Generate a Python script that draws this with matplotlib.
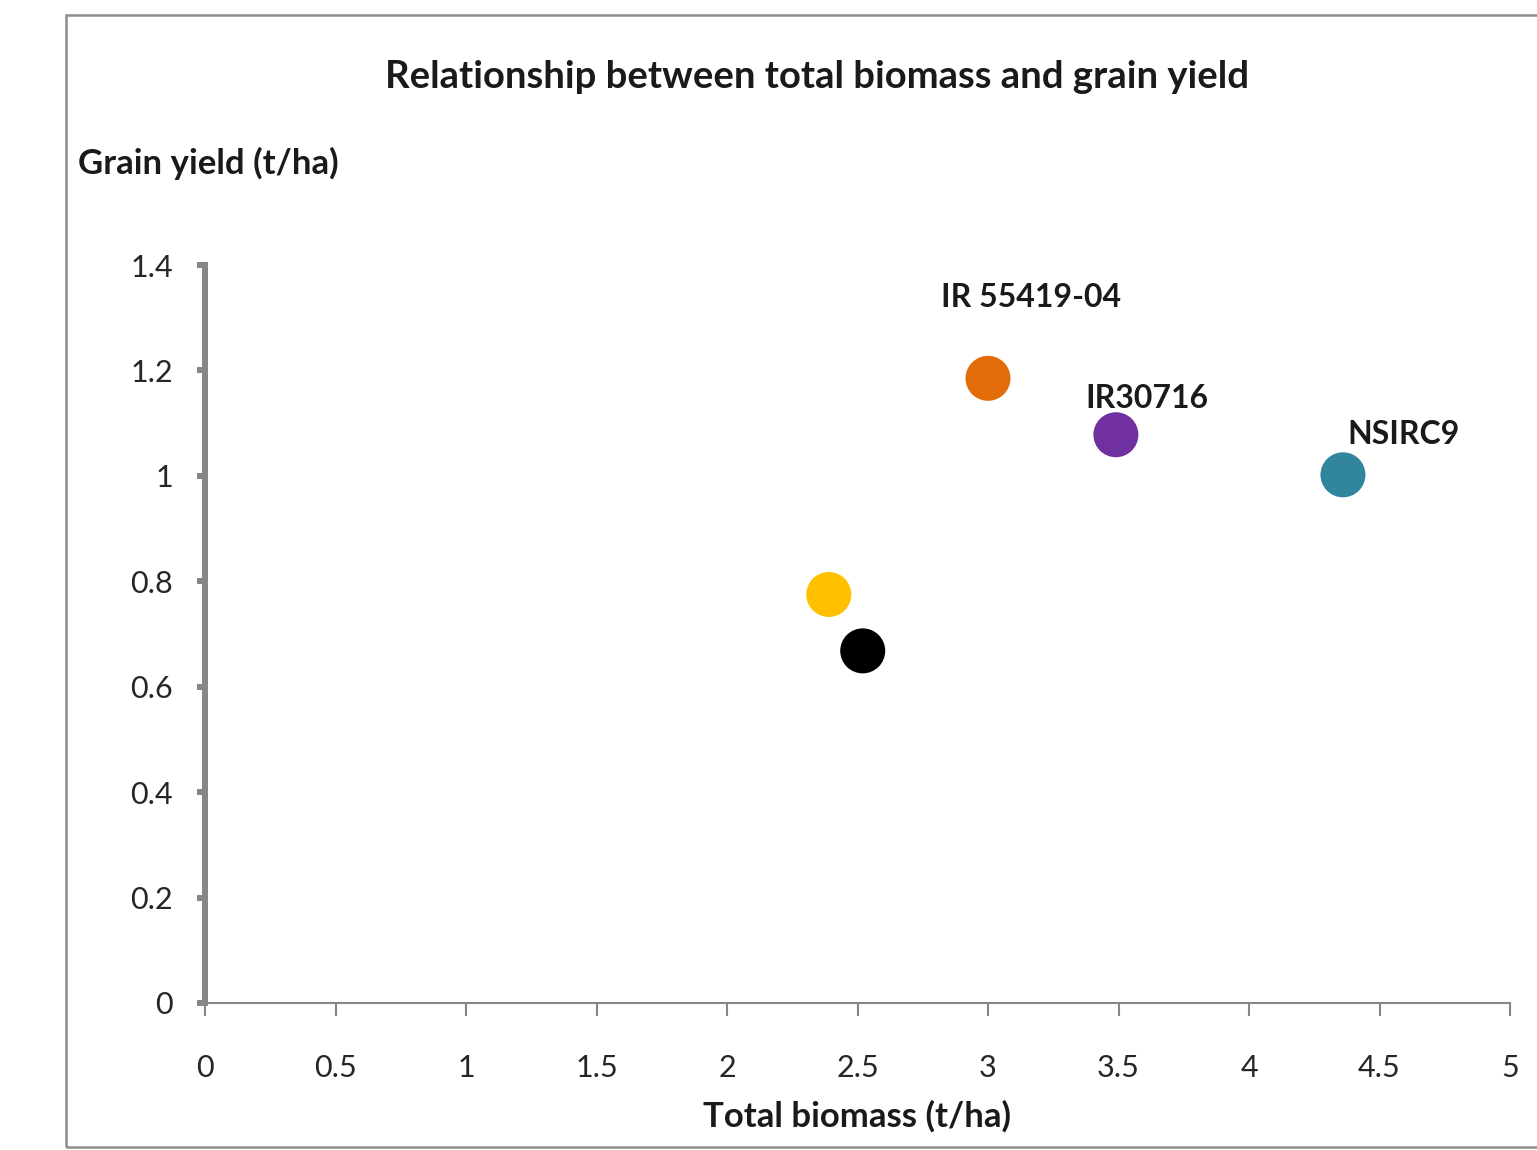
import matplotlib
matplotlib.use("Agg")
import matplotlib.pyplot as plt
from matplotlib.patches import Rectangle

plt.rcParams['font.family'] = ['Lato', 'DejaVu Sans']

# Varieties: total biomass (t/ha) vs grain yield (t/ha)
varieties = ["", "", "IR 55419-04", "IR30716", "NSIRC9"]
biomass = [2.39, 2.52, 3.0, 3.49, 4.36]
grain_yield = [0.775, 0.668, 1.185, 1.078, 1.002]
colors = ["#FFC000", "#000000", "#E36C0A", "#7030A0", "#31859C"]
# label offsets (points) relative to each marker
label_dx = [0, 0, -34, -22, 3]
label_dy = [0, 0, 58, 26, 29]

x_ticks = [0, 0.5, 1, 1.5, 2, 2.5, 3, 3.5, 4, 4.5, 5]
x_tick_labels = ["0", "0.5", "1", "1.5", "2", "2.5", "3", "3.5", "4", "4.5", "5"]
y_ticks = [0, 0.2, 0.4, 0.6, 0.8, 1.0, 1.2, 1.4]
y_tick_labels = ["0", "0.2", "0.4", "0.6", "0.8", "1", "1.2", "1.4"]

W, H = 1537, 1150
fig = plt.figure(figsize=(W / 100, H / 100), dpi=100)
fig.patch.set_facecolor("white")

# outer chart frame
fig.patches.append(Rectangle((66 / W, 1 - 1147 / H), 1.0, (1147 - 15) / H,
                             transform=fig.transFigure, fill=False,
                             edgecolor="#8c8c8c", linewidth=1.8))

ax = fig.add_axes([205 / W, 1 - 1003 / H, (1510 - 205) / W, (1003 - 265) / H])
ax.set_xlim(0, 5)
ax.set_ylim(0, 1.4)

ax.scatter(biomass, grain_yield, s=1050, c=colors, edgecolors="none", zorder=3,
           clip_on=False)

for name, x, y, dx, dy in zip(varieties, biomass, grain_yield, label_dx, label_dy):
    if name:
        ax.annotate(name, (x, y), xytext=(dx, dy), textcoords="offset points",
                    ha="left", va="center", fontsize=23, fontweight="bold",
                    color="#1a1a1a")

for side in ("top", "right"):
    ax.spines[side].set_visible(False)
ax.spines["left"].set_color("#868686")
ax.spines["left"].set_linewidth(4.3)
ax.spines["bottom"].set_color("#868686")
ax.spines["bottom"].set_linewidth(1.5)

ax.set_xticks(x_ticks)
ax.set_xticklabels(x_tick_labels)
ax.set_yticks(y_ticks)
ax.set_yticklabels(y_tick_labels)
ax.tick_params(axis="x", direction="out", length=9, width=1.5, color="#868686",
               labelsize=22, pad=28, labelcolor="#262626")
ax.tick_params(axis="y", direction="out", length=6, width=4.3, color="#868686",
               labelsize=22, pad=17, labelcolor="#262626")

ax.set_xlabel("Total biomass (t/ha)", fontsize=25, fontweight="bold",
              color="#1a1a1a")
ax.xaxis.set_label_coords(0.4996, -0.132)

fig.text(817 / W, 1 - 77 / H, "Relationship between total biomass and grain yield",
         ha="center", va="center", fontsize=27.5, fontweight="bold", color="#1a1a1a")
fig.text(78 / W, 1 - 163 / H, "Grain yield (t/ha)", ha="left", va="center",
         fontsize=25, fontweight="bold", color="#1a1a1a")

fig.savefig("out.png", dpi=100, facecolor="white")
